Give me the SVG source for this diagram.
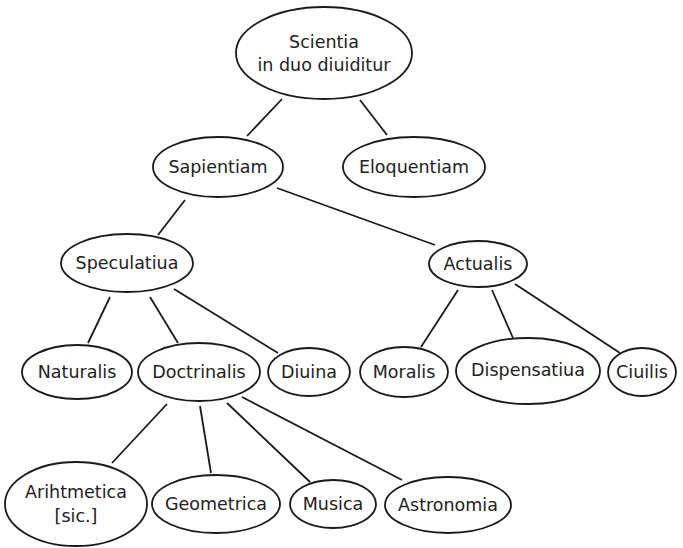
<svg xmlns="http://www.w3.org/2000/svg" width="683" height="548" viewBox="0 0 683 548">
<style>
.n ellipse{fill:#fff;stroke:#1a1a1a;stroke-width:1.8}
.n text{font-family:"DejaVu Sans",Verdana,sans-serif;font-size:17.5px;fill:#222;text-anchor:middle}
#edges line{stroke:#1a1a1a;stroke-width:1.8}
</style>
<rect width="683" height="548" fill="#fff"/>
<g id="edges">
<line x1="282" y1="99" x2="247" y2="136"/>
<line x1="360" y1="100" x2="387" y2="135"/>
<line x1="185" y1="200" x2="158" y2="235"/>
<line x1="277" y1="188" x2="435" y2="245"/>
<line x1="110" y1="297" x2="88" y2="343"/>
<line x1="150" y1="297" x2="178" y2="343"/>
<line x1="174" y1="289" x2="278" y2="353"/>
<line x1="458" y1="290" x2="421" y2="347"/>
<line x1="492" y1="290" x2="513" y2="338"/>
<line x1="515" y1="284" x2="620" y2="353"/>
<line x1="167" y1="404" x2="112" y2="463"/>
<line x1="200" y1="406" x2="211" y2="473"/>
<line x1="227" y1="403" x2="310" y2="482"/>
<line x1="242" y1="397" x2="402" y2="480"/>
</g>
<g id="scientia" class="n"><ellipse cx="324" cy="53" rx="88" ry="46"/><text x="324" y="48">Scientia</text><text x="324" y="71">in duo diuiditur</text></g>
<g id="sapientiam" class="n"><ellipse cx="218" cy="167" rx="65" ry="30"/><text x="218" y="173">Sapientiam</text></g>
<g id="eloquentiam" class="n"><ellipse cx="414" cy="167" rx="71" ry="30"/><text x="414" y="173">Eloquentiam</text></g>
<g id="speculatiua" class="n"><ellipse cx="127" cy="263" rx="66" ry="29"/><text x="127" y="269">Speculatiua</text></g>
<g id="actualis" class="n"><ellipse cx="478" cy="264" rx="49" ry="23"/><text x="478" y="270">Actualis</text></g>
<g id="naturalis" class="n"><ellipse cx="77" cy="372" rx="55" ry="27"/><text x="77" y="378">Naturalis</text></g>
<g id="doctrinalis" class="n"><ellipse cx="199" cy="372" rx="61" ry="29"/><text x="199" y="378">Doctrinalis</text></g>
<g id="diuina" class="n"><ellipse cx="309" cy="372" rx="41" ry="24"/><text x="309" y="378">Diuina</text></g>
<g id="moralis" class="n"><ellipse cx="404" cy="372" rx="44" ry="25"/><text x="404" y="378">Moralis</text></g>
<g id="dispensatiua" class="n"><ellipse cx="528" cy="371" rx="72" ry="33"/><text x="528" y="376">Dispensatiua</text></g>
<g id="ciuilis" class="n"><ellipse cx="642" cy="372" rx="34" ry="24"/><text x="642" y="378">Ciuilis</text></g>
<g id="arihtmetica" class="n"><ellipse cx="76" cy="504" rx="71" ry="42"/><text x="76" y="498">Arihtmetica</text><text x="76" y="522">[sic.]</text></g>
<g id="geometrica" class="n"><ellipse cx="216" cy="504" rx="64" ry="29"/><text x="216" y="510">Geometrica</text></g>
<g id="musica" class="n"><ellipse cx="333" cy="504" rx="43" ry="24"/><text x="333" y="510">Musica</text></g>
<g id="astronomia" class="n"><ellipse cx="448" cy="505" rx="63" ry="28"/><text x="448" y="511">Astronomia</text></g>
</svg>
